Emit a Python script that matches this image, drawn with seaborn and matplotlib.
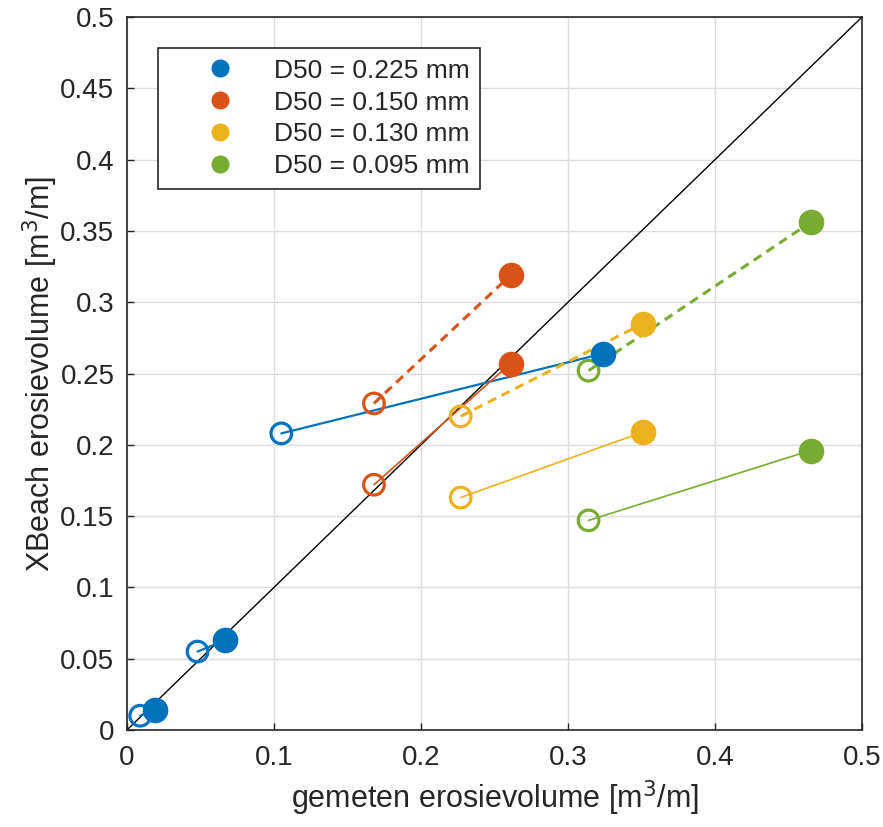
import matplotlib.pyplot as plt
import seaborn as sns
import pandas as pd
from matplotlib.lines import Line2D

# measured (gemeten) vs XBeach erosion volumes, open = start, filled = end of each pair
labels = ["D50 = 0.225 mm", "D50 = 0.150 mm", "D50 = 0.130 mm", "D50 = 0.095 mm"]
colors = ["#0072BD", "#D95319", "#EDB120", "#77AC30"]

x_open = [0.009, 0.048, 0.105, 0.168, 0.168, 0.227, 0.227, 0.314, 0.314]
y_open = [0.010, 0.055, 0.208, 0.229, 0.172, 0.220, 0.163, 0.252, 0.147]
x_fill = [0.019, 0.067, 0.324, 0.261, 0.261, 0.351, 0.351, 0.465, 0.465]
y_fill = [0.014, 0.063, 0.264, 0.319, 0.257, 0.285, 0.209, 0.356, 0.196]
group = [0, 0, 0, 1, 1, 2, 2, 3, 3]
dashed = [False, False, False, True, False, True, False, True, False]

df_open = pd.DataFrame({"x": x_open, "y": y_open, "g": group})
df_fill = pd.DataFrame({"x": x_fill, "y": y_fill, "g": group})

sns.set_style("whitegrid")
plt.rcParams["font.family"] = ["Liberation Sans", "DejaVu Sans"]

fig = plt.figure(figsize=(8.83, 8.27), dpi=100)
ax = fig.add_axes([0.1438, 0.1173, 0.8324, 0.8621])

# 1:1 line
ax.plot([0, 0.5], [0, 0.5], color="black", lw=1.0, zorder=2)

for xo, yo, xf, yf, g, d in zip(x_open, y_open, x_fill, y_fill, group, dashed):
    if d:
        ax.plot([xo, xf], [yo, yf], color=colors[g], lw=2.2, ls=(0, (3, 2)), zorder=3)
    else:
        ax.plot([xo, xf], [yo, yf], color=colors[g], lw=1.6 if g == 0 else 1.2, zorder=3)

for g in range(4):
    sub_o = df_open[df_open.g == g]
    sub_f = df_fill[df_fill.g == g]
    sns.scatterplot(data=sub_o, x="x", y="y", ax=ax, s=220, facecolors="none",
                    edgecolor=colors[g], linewidth=2.3, zorder=4, legend=False)
    sns.scatterplot(data=sub_f, x="x", y="y", ax=ax, s=340, color=colors[g],
                    edgecolor=colors[g], linewidth=0, zorder=5, legend=False)

ax.set_xlim(0, 0.5)
ax.set_ylim(0, 0.5)
ax.set_xticks([0, 0.1, 0.2, 0.3, 0.4, 0.5])
ax.set_xticklabels(["0", "0.1", "0.2", "0.3", "0.4", "0.5"])
yt = [0, 0.05, 0.1, 0.15, 0.2, 0.25, 0.3, 0.35, 0.4, 0.45, 0.5]
ax.set_yticks(yt)
ax.set_yticklabels(["0", "0.05", "0.1", "0.15", "0.2", "0.25", "0.3", "0.35", "0.4", "0.45", "0.5"])
ax.grid(True, color="#dcdcdc", lw=1.0)
ax.tick_params(axis="both", labelsize=20, direction="in", length=5, width=1,
               colors="#262626", labelcolor="#262626", left=True, bottom=True)
ax.tick_params(axis="x", pad=11)
ax.tick_params(axis="y", pad=9)
for s in ax.spines.values():
    s.set_color("#262626")
    s.set_linewidth(1.2)
    s.set_visible(True)

ax.set_xlabel("gemeten erosievolume [m$^3$/m]", fontsize=22, color="#262626", labelpad=5)
ax.set_ylabel("XBeach erosievolume [m$^3$/m]", fontsize=22, color="#262626", labelpad=0)

handles = [Line2D([], [], marker="o", ls="none", color=c, markersize=12) for c in colors]
leg = ax.legend(handles, labels, loc="upper left", bbox_to_anchor=(0.042, 0.9565),
                borderaxespad=0, fontsize=19, frameon=True, fancybox=False,
                handletextpad=0.1, borderpad=0.4, labelspacing=0.3, handlelength=3.9)
leg.get_frame().set_edgecolor("#262626")
leg.get_frame().set_linewidth(1.2)
leg.get_frame().set_alpha(1)

fig.savefig("out.png", dpi=100)
